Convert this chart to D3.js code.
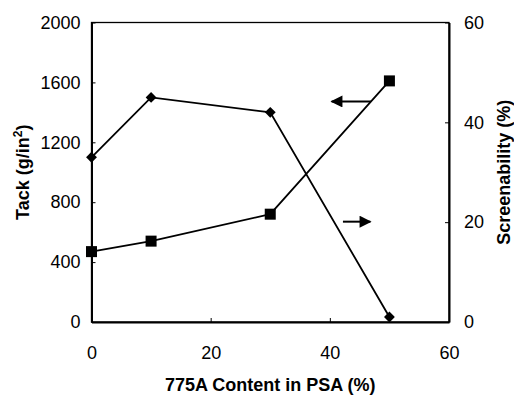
<!DOCTYPE html>
<html>
<head>
<meta charset="utf-8">
<script src="https://cdn.jsdelivr.net/npm/d3@7"></script>
<style>
  body { margin: 0; background: #fff; }
  svg { font-family: Arial, "Liberation Sans", sans-serif; }
  .axis path, .axis line { stroke: #000; }
</style>
</head>
<body>
<div id="chart-area"></div>
<script>
// data
var content = [0, 10, 30, 50];
var tack = [470, 540, 720, 1610];
var screenability = [33, 45, 42, 1];

var xTicks = [0, 20, 40, 60];
var tackTicks = [0, 400, 800, 1200, 1600, 2000];
var screenTicks = [0, 20, 40, 60];

// arrows telling which axis each curve uses: [x1, x2, y]
var tackArrow = [46.9, 40.3, 1473];
var screenArrow = [42.2, 46.8, 20.1];

var margin = {top: 22.5, right: 65, bottom: 76, left: 91.5};
var width = 514 - margin.left - margin.right;
var height = 398 - margin.top - margin.bottom;

var svg = d3.select("#chart-area")
    .append("svg")
    .attr("width", 514)
    .attr("height", 398);

var defs = svg.append("defs");
defs.append("marker")
    .attr("id", "head")
    .attr("viewBox", "0 0 10 10")
    .attr("refX", 9)
    .attr("refY", 5)
    .attr("markerWidth", 14)
    .attr("markerHeight", 12)
    .attr("markerUnits", "userSpaceOnUse")
    .attr("orient", "auto")
    .append("path")
    .attr("d", "M0,0 L10,5 L0,10 Z")
    .attr("fill", "#000");

var g = svg.append("g")
    .attr("transform", "translate(" + margin.left + ", " + margin.top + ")");

var x = d3.scaleLinear().domain([0, 60]).range([0, width]);
var yL = d3.scaleLinear().domain([0, 2000]).range([height, 0]);
var yR = d3.scaleLinear().domain([0, 60]).range([height, 0]);

var fmt = d3.format("d");

// frame
g.append("rect")
    .attr("width", width)
    .attr("height", height)
    .attr("fill", "none")
    .attr("stroke", "#000")
    .attr("stroke-width", 1.3);

// bottom axis
var xAxis = g.append("g")
    .attr("class", "axis")
    .attr("transform", "translate(0, " + height + ")")
    .call(d3.axisBottom(x).tickValues(xTicks).tickFormat(fmt).tickSizeInner(-4).tickSizeOuter(0).tickPadding(24));
xAxis.select(".domain").attr("stroke-width", 2);
xAxis.selectAll("text").attr("font-size", "18px").attr("fill", "#000");

// left axis
var leftAxis = g.append("g")
    .attr("class", "axis")
    .call(d3.axisLeft(yL).tickValues(tackTicks).tickFormat(fmt).tickSizeInner(-4).tickSizeOuter(0).tickPadding(11));
leftAxis.select(".domain").attr("stroke-width", 2);
leftAxis.selectAll("text").attr("font-size", "18px").attr("fill", "#000");

// right axis
var rightAxis = g.append("g")
    .attr("class", "axis")
    .attr("transform", "translate(" + width + ", 0)")
    .call(d3.axisRight(yR).tickValues(screenTicks).tickFormat(fmt).tickSizeInner(-4).tickSizeOuter(0).tickPadding(15));
rightAxis.select(".domain").attr("stroke-width", 2);
rightAxis.selectAll("text").attr("font-size", "18px").attr("fill", "#000");

// tack series (squares, left axis)
var tackLine = d3.line()
    .x((d, i) => x(content[i]))
    .y((d) => yL(d));
g.append("path")
    .datum(tack)
    .attr("d", tackLine)
    .attr("fill", "none")
    .attr("stroke", "#000")
    .attr("stroke-width", 1.8);
g.selectAll(".sq").data(tack).enter()
    .append("rect")
    .attr("class", "sq")
    .attr("x", (d, i) => x(content[i]) - 5.5)
    .attr("y", (d) => yL(d) - 5.5)
    .attr("width", 11)
    .attr("height", 11)
    .attr("fill", "#000");

// screenability series (diamonds, right axis)
var screenLine = d3.line()
    .x((d, i) => x(content[i]))
    .y((d) => yR(d));
g.append("path")
    .datum(screenability)
    .attr("d", screenLine)
    .attr("fill", "none")
    .attr("stroke", "#000")
    .attr("stroke-width", 1.8);
g.selectAll(".dia").data(screenability).enter()
    .append("path")
    .attr("class", "dia")
    .attr("d", d3.symbol().type(d3.symbolDiamond2).size(75))
    .attr("transform", (d, i) => "translate(" + x(content[i]) + "," + yR(d) + ")")
    .attr("fill", "#000");

// arrows
g.append("line")
    .attr("x1", x(tackArrow[0])).attr("x2", x(tackArrow[1]))
    .attr("y1", yL(tackArrow[2])).attr("y2", yL(tackArrow[2]))
    .attr("stroke", "#000").attr("stroke-width", 2)
    .attr("marker-end", "url(#head)");
g.append("line")
    .attr("x1", x(screenArrow[0])).attr("x2", x(screenArrow[1]))
    .attr("y1", yR(screenArrow[2])).attr("y2", yR(screenArrow[2]))
    .attr("stroke", "#000").attr("stroke-width", 2)
    .attr("marker-end", "url(#head)");

// axis labels
g.append("text")
    .attr("x", width / 2)
    .attr("y", height + 69)
    .attr("font-size", "18px")
    .attr("font-weight", "bold")
    .attr("text-anchor", "middle")
    .text("775A Content in PSA (%)");

var yTitle = g.append("text")
    .attr("x", -height / 2)
    .attr("y", -63)
    .attr("font-size", "18px")
    .attr("font-weight", "bold")
    .attr("text-anchor", "middle")
    .attr("transform", "rotate(-90)");
yTitle.append("tspan").text("Tack (g/in");
yTitle.append("tspan").attr("baseline-shift", "super").attr("font-size", "12px").text("2");
yTitle.append("tspan").text(")");

g.append("text")
    .attr("x", -height / 2)
    .attr("y", width + 61)
    .attr("font-size", "18px")
    .attr("font-weight", "bold")
    .attr("text-anchor", "middle")
    .attr("transform", "rotate(-90)")
    .text("Screenability (%)");
</script>
</body>
</html>
